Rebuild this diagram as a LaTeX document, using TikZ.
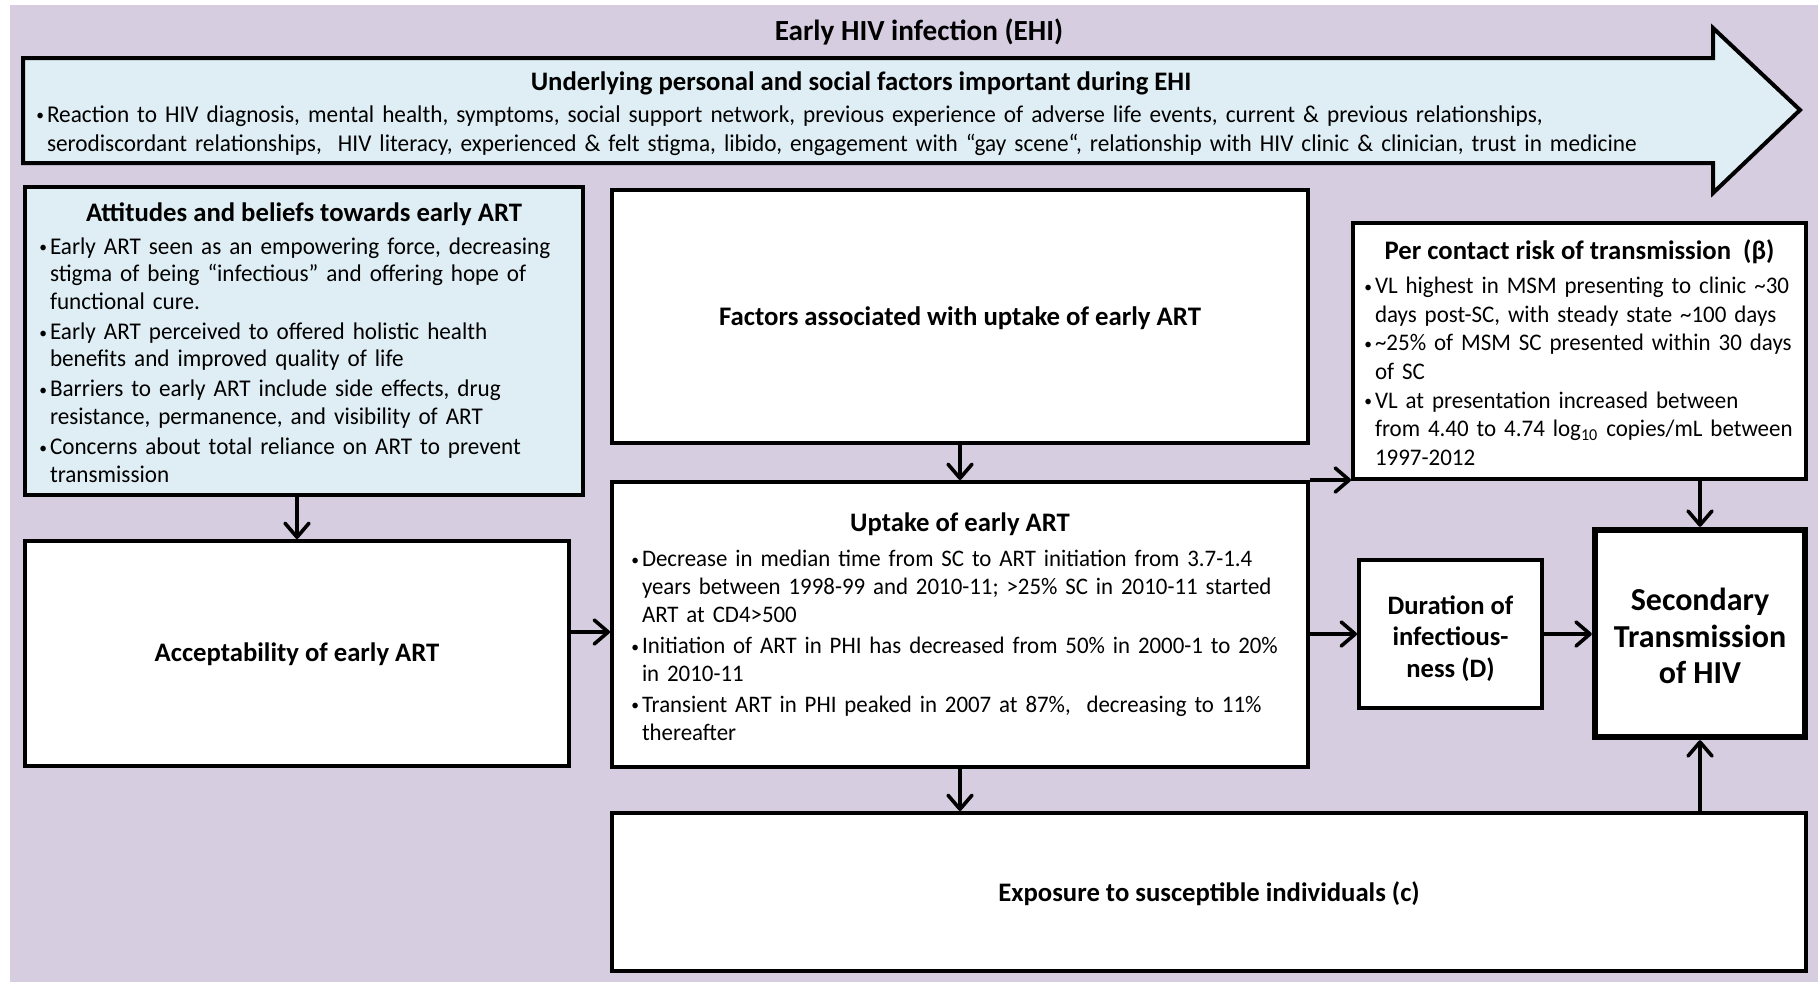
\documentclass[tikz,border=0pt]{standalone}
\usepackage{fontspec}
\setmainfont{Carlito}
\newfontfamily\bodyfont{Carlito}[FakeStretch=0.965]
\usetikzlibrary{arrows.meta,calc}
\definecolor{bgpurple}{RGB}{214,205,225}
\definecolor{lightblue}{RGB}{223,238,244}
\newcommand\bl{\makebox[5.3pt][l]{\raisebox{0.6pt}{\fontsize{8}{8}\selectfont•}}}
\newcommand\ind{\hspace*{5.3pt}}
\tikzset{
  box/.style={draw=black, line width=2pt, fill=white, inner sep=0pt, align=center,
    font=\fontsize{13.35}{15.8}\selectfont\bfseries},
  boxtext/.style={inner sep=0pt, align=center},
  conn/.style={line width=1.8pt, -{Straight Barb[length=7pt,width=12pt,round]}},
  ttl/.style={font=\fontsize{13.35}{15.8}\selectfont\bfseries, inner sep=0pt, anchor=base},
  body/.style={inner sep=0pt, align=left, anchor=base west},
}
\begin{document}
\begin{tikzpicture}[x=0.5pt,y=-0.5pt]
\useasboundingbox (0,0) rectangle (1818,982);
\fill[bgpurple] (10,5) rectangle (1818,982);
% big arrow
\draw[line width=2pt, fill=lightblue, line join=miter]
  (23,58) -- (1713,58) -- (1713,28) -- (1800,110) -- (1713,193) -- (1713,163) -- (23,163) -- cycle;
\node[font=\fontsize{14.6}{17}\selectfont\bfseries, inner sep=0pt, anchor=base] (ehi) at (919,40) {Early HIV infection (EHI)};
\node[ttl] (uf) at (861,90) {Underlying personal and social factors important during EHI};
\node[body, text width=860pt, font=\bodyfont\fontsize{12.05}{14.5}\selectfont] (ufb) at (36,122)
  {\bl Reaction to HIV diagnosis, mental health, symptoms, social support network, previous experience of adverse life events, current \& previous relationships,\\
   \ind serodiscordant relationships,\ \ HIV literacy, experienced \& felt stigma, libido, engagement with “gay scene“, relationship with HIV clinic \& clinician, trust in medicine};

% boxes
\node[box, fill=lightblue, minimum width=279pt, minimum height=154pt] (att) at (304,341) {};
\node[box, minimum width=348pt, minimum height=126.5pt] (fac) at (960,316.5) {};
\node[boxtext, font=\fontsize{13.4}{15.8}\selectfont\bfseries, yshift=-1pt] (fact) at (fac.center) {Factors associated with uptake of early ART};
\node[box, minimum width=226.5pt, minimum height=128pt] (pc) at (1579.5,351) {};
\node[box, minimum width=348pt, minimum height=142.5pt] (upt) at (960,624.5) {};
\node[box, minimum width=272pt, minimum height=112.5pt] (acc) at (297,653.5) {};
\node[boxtext, font=\fontsize{13.35}{15.8}\selectfont\bfseries, yshift=-0.6pt] (acct) at (acc.center) {Acceptability of early ART};
\node[box, minimum width=91.5pt, minimum height=74pt] (dur) at (1450.5,634) {};
\node[boxtext, font=\fontsize{13.3}{15.8}\selectfont\bfseries, yshift=-2.2pt] (durt) at (dur.center) {Duration of\\infectious-\\ness (D)};
\node[box, line width=3.2pt, minimum width=105pt, minimum height=103.5pt] (sec) at (1700,633.5) {};
\node[boxtext, font=\fontsize{16}{18.35}\selectfont\bfseries, yshift=-1.2pt] (sect) at (sec.center) {Secondary\\Transmission\\of HIV};
\node[box, minimum width=597pt, minimum height=79pt] (exp) at (1209,892) {};
\node[boxtext, font=\fontsize{13.35}{15.8}\selectfont\bfseries, yshift=-0.6pt] (expt) at (exp.center) {Exposure to susceptible individuals (c)};

% texts of bullet boxes
\node[ttl] (attt) at (304,221) {Attitudes and beliefs towards early ART};
\node[body, text width=290pt, font=\bodyfont\fontsize{12}{13.8}\selectfont] (attb) at (39,254)
  {\bl Early ART seen as an empowering force, decreasing\\
   \ind stigma of being “infectious” and offering hope of\\
   \ind functional cure.\\[1.2pt]
   \bl Early ART perceived to offered holistic health\\
   \ind benefits and improved quality of life\\[1.2pt]
   \bl Barriers to early ART include side effects, drug\\
   \ind resistance, permanence, and visibility of ART\\[1.2pt]
   \bl Concerns about total reliance on ART to prevent\\
   \ind transmission};

\node[ttl] (pct) at (1579.5,259.3) {Per contact risk of transmission\ \ (β)};
\node[body, text width=260pt, font=\bodyfont\fontsize{11.9}{14.35}\selectfont] (pcb) at (1364,293.3)
  {\bl VL highest in MSM presenting to clinic \textasciitilde30\\
   \ind days post-SC, with steady state \textasciitilde100 days\\
   \bl \textasciitilde25\% of MSM SC presented within 30 days\\
   \ind of SC\\
   \bl VL at presentation increased between\\
   \ind from 4.40 to 4.74 log\textsubscript{10} copies/mL between\\
   \ind 1997-2012};

\node[ttl] (uptt) at (960,531) {Uptake of early ART};
\node[body, text width=345pt, font=\bodyfont\fontsize{11.85}{14.05}\selectfont] (uptb) at (631,566.7)
  {\bl Decrease in median time from SC to ART initiation from 3.7-1.4\\
   \ind years between 1998-99 and 2010-11; >25\% SC in 2010-11 started\\
   \ind ART at CD4>500\\[1.2pt]
   \bl Initiation of ART in PHI has decreased from 50\% in 2000-1 to 20\%\\
   \ind in 2010-11\\[1.2pt]
   \bl Transient ART in PHI peaked in 2007 at 87\%,\ \ decreasing to 11\%\\
   \ind thereafter};

% connectors
\draw[conn] (att.south -| acc.north) -- (acc.north);
\draw[conn] (fac.south) -- (upt.north);
\draw[conn] ([yshift=10.75pt]acc.east) -- ([yshift=10.75pt]acc.east -| upt.west);
\draw[conn] (upt.north east) -- (upt.north east -| pc.west);
\draw[conn] (upt.east |- dur.west) -- (dur.west);
\draw[conn] (dur.east) -- (dur.east -| sec.west);
\draw[conn] (pc.south -| sec.north) -- (sec.north);
\draw[conn] (upt.south) -- (upt.south |- exp.north);
\draw[conn] (exp.north -| sec.south) -- (sec.south);
\end{tikzpicture}
\end{document}
